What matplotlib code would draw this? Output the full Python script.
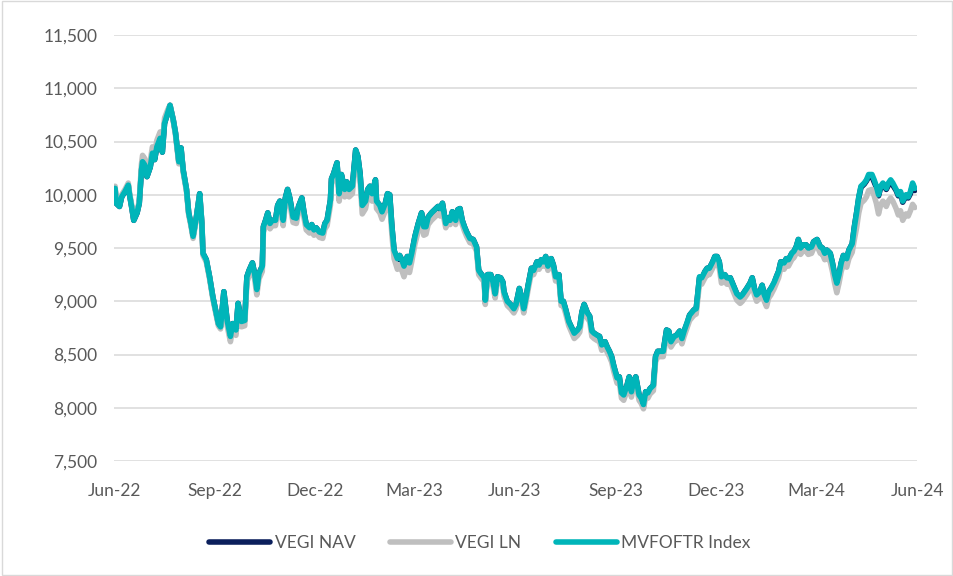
import numpy as np
import pandas as pd
import matplotlib
matplotlib.use("Agg")
import matplotlib.pyplot as plt
from matplotlib.patches import Rectangle
from matplotlib.ticker import FuncFormatter


# ==========================
# DATA
# ==========================

start_date = "2022-06-30"

# days after start_date
day = [
    1, 2, 5, 7, 10, 13, 14, 16, 18, 21, 23, 25, 26, 28, 30, 33, 35, 37, 39, 42,
    44, 46, 49, 51, 54, 56, 59, 61, 63, 66, 68, 70, 72, 75, 78, 80, 81, 84, 87, 90,
    93, 95, 97, 100, 103, 106, 108, 111, 113, 116, 119, 121, 123, 126, 128, 130, 132, 135, 136, 138,
    140, 142, 144, 147, 149, 151, 154, 156, 158, 160, 163, 166, 168, 171, 173, 175, 178, 180, 182, 184,
    187, 190, 192, 194, 197, 198, 200, 203, 205, 207, 210, 212, 214, 217, 220, 222, 224, 226, 229, 231,
    233, 235, 238, 239, 242, 244, 247, 249, 251, 253, 255, 258, 260, 262, 264, 267, 269, 271, 274, 277,
    280, 282, 284, 286, 289, 292, 295, 297, 299, 302, 304, 306, 308, 311, 313, 315, 317, 319, 321, 324,
    327, 330, 332, 334, 337, 338, 340, 343, 345, 347, 349, 352, 354, 355, 358, 361, 364, 366, 369, 371,
    373, 375, 377, 380, 382, 385, 387, 389, 391, 393, 395, 398, 400, 402, 405, 407, 409, 411, 414, 419,
    422, 424, 426, 428, 431, 433, 435, 437, 440, 442, 444, 447, 449, 451, 453, 455, 458, 460, 462, 464,
    467, 469, 471, 473, 475, 478, 480, 482, 484, 486, 488, 491, 493, 495, 497, 500, 503, 505, 507, 510,
    512, 515, 517, 519, 522, 524, 528, 530, 533, 535, 538, 540, 542, 545, 547, 549, 551, 553, 556, 558,
    561, 563, 565, 567, 570, 572, 574, 576, 579, 581, 583, 585, 588, 590, 592, 594, 596, 598, 601, 603,
    605, 607, 610, 612, 614, 617, 619, 621, 623, 625, 627, 630, 632, 635, 637, 640, 643, 645, 647, 649,
    652, 654, 656, 658, 660, 662, 664, 667, 669, 672, 674, 676, 678, 680, 683, 685, 687, 690, 692, 694,
    696, 698, 700, 703, 705, 707, 709, 712, 714, 716, 718, 721, 723, 725, 727, 729,
]

mvfoftr = [
    10060, 9920, 9890, 9980, 10030, 10090, 10010, 9890, 9760, 9830, 9920, 10230, 10310, 10280, 10170, 10260, 10390, 10330, 10450, 10530,
    10400, 10670, 10770, 10840, 10700, 10580, 10310, 10440, 10230, 10050, 9830, 9730, 9610, 9790, 10010, 9730, 9450, 9390, 9230, 9040,
    8890, 8790, 8760, 9090, 8820, 8670, 8790, 8730, 8980, 8810, 8820, 9230, 9290, 9360, 9260, 9110, 9260, 9330, 9700, 9760,
    9830, 9730, 9760, 9760, 9900, 9940, 9760, 9970, 10050, 9970, 9790, 9780, 9890, 9970, 9830, 9720, 9690, 9720, 9670, 9690,
    9650, 9640, 9730, 9760, 9950, 10150, 10200, 10300, 10010, 10190, 10050, 10120, 10050, 10080, 10420, 10360, 10200, 9900, 9940, 10050,
    10080, 10010, 10140, 9940, 9900, 9840, 9920, 10010, 10000, 9700, 9480, 9400, 9430, 9390, 9330, 9420, 9360, 9450, 9610, 9730,
    9830, 9700, 9700, 9790, 9830, 9860, 9890, 9870, 9920, 9730, 9780, 9760, 9840, 9760, 9860, 9870, 9760, 9700, 9650, 9590,
    9580, 9510, 9290, 9260, 9220, 9010, 9250, 9250, 9180, 9070, 9230, 9220, 9180, 9090, 9000, 8970, 8930, 8970, 9120, 9040,
    8930, 9030, 9150, 9310, 9290, 9370, 9340, 9390, 9370, 9420, 9330, 9400, 9340, 9230, 9250, 9000, 9000, 8930, 8810, 8700,
    8730, 8760, 8900, 8970, 8890, 8860, 8720, 8700, 8680, 8670, 8590, 8620, 8570, 8530, 8480, 8390, 8280, 8290, 8140, 8120,
    8210, 8290, 8150, 8250, 8290, 8120, 8090, 8030, 8150, 8140, 8180, 8210, 8480, 8530, 8530, 8530, 8730, 8720, 8620, 8670,
    8680, 8720, 8650, 8720, 8810, 8870, 8920, 8930, 9230, 9220, 9280, 9310, 9310, 9370, 9420, 9420, 9370, 9230, 9250, 9220,
    9220, 9170, 9120, 9070, 9040, 9060, 9090, 9120, 9170, 9220, 9120, 9060, 9090, 9150, 9060, 9010, 9090, 9120, 9180, 9230,
    9280, 9370, 9360, 9400, 9390, 9450, 9470, 9510, 9580, 9500, 9530, 9530, 9500, 9510, 9560, 9580, 9510, 9500, 9450, 9480,
    9450, 9360, 9250, 9170, 9250, 9360, 9430, 9400, 9480, 9540, 9700, 9830, 9980, 10080, 10110, 10140, 10190, 10190, 10140, 10080,
    10000, 10080, 10110, 10060, 10110, 10140, 10110, 10050, 10000, 10030, 9940, 10000, 9980, 10030, 10110, 10060,
]

vegi_nav = [
    10060, 9920, 9890, 9980, 10030, 10090, 10010, 9890, 9760, 9830, 9920, 10230, 10310, 10280, 10170, 10260, 10390, 10330, 10450, 10530,
    10400, 10670, 10770, 10840, 10700, 10580, 10310, 10440, 10230, 10050, 9830, 9730, 9610, 9790, 10010, 9730, 9450, 9390, 9230, 9040,
    8890, 8790, 8760, 9090, 8820, 8670, 8790, 8730, 8980, 8810, 8820, 9230, 9290, 9360, 9260, 9110, 9260, 9330, 9700, 9760,
    9830, 9730, 9760, 9760, 9900, 9940, 9760, 9970, 10050, 9970, 9790, 9780, 9890, 9970, 9830, 9720, 9690, 9720, 9670, 9690,
    9650, 9640, 9730, 9760, 9950, 10150, 10200, 10300, 10010, 10190, 10050, 10120, 10050, 10080, 10420, 10360, 10200, 9890, 9940, 10050,
    10080, 10010, 10140, 9940, 9900, 9840, 9920, 10010, 10000, 9700, 9470, 9390, 9430, 9390, 9320, 9420, 9360, 9450, 9610, 9730,
    9830, 9700, 9700, 9790, 9830, 9860, 9890, 9860, 9920, 9730, 9780, 9760, 9840, 9760, 9860, 9870, 9760, 9700, 9650, 9590,
    9580, 9510, 9290, 9260, 9220, 9000, 9250, 9250, 9180, 9070, 9230, 9220, 9180, 9090, 9000, 8970, 8930, 8970, 9120, 9040,
    8930, 9030, 9150, 9310, 9290, 9370, 9340, 9390, 9360, 9420, 9330, 9400, 9340, 9230, 9250, 9000, 9000, 8930, 8810, 8700,
    8730, 8760, 8900, 8970, 8890, 8860, 8720, 8700, 8680, 8670, 8590, 8620, 8570, 8530, 8480, 8390, 8280, 8290, 8140, 8120,
    8210, 8290, 8150, 8250, 8290, 8120, 8080, 8010, 8150, 8140, 8180, 8210, 8480, 8530, 8530, 8530, 8730, 8720, 8620, 8670,
    8680, 8720, 8650, 8720, 8800, 8870, 8920, 8930, 9220, 9210, 9280, 9310, 9310, 9370, 9420, 9420, 9370, 9220, 9250, 9220,
    9220, 9170, 9120, 9070, 9040, 9060, 9090, 9120, 9170, 9220, 9120, 9060, 9090, 9150, 9060, 9010, 9090, 9120, 9170, 9230,
    9280, 9370, 9360, 9400, 9390, 9450, 9470, 9510, 9580, 9500, 9530, 9530, 9500, 9510, 9560, 9580, 9510, 9500, 9450, 9480,
    9450, 9360, 9250, 9170, 9250, 9360, 9430, 9400, 9480, 9540, 9700, 9830, 9970, 10070, 10100, 10130, 10170, 10170, 10120, 10070,
    9990, 10070, 10100, 10050, 10090, 10120, 10090, 10040, 9990, 10020, 9930, 9990, 9970, 10010, 10090, 10040,
]

vegi_ln = [
    10080, 9940, 9910, 10000, 10050, 10110, 10030, 9910, 9780, 9850, 9940, 10290, 10370, 10340, 10230, 10320, 10450, 10390, 10510, 10590,
    10460, 10720, 10800, 10840, 10690, 10560, 10290, 10420, 10210, 10030, 9810, 9710, 9590, 9770, 9990, 9710, 9430, 9370, 9210, 9020,
    8870, 8770, 8740, 9040, 8770, 8620, 8740, 8680, 8930, 8760, 8770, 9180, 9240, 9310, 9210, 9060, 9210, 9280, 9650, 9710,
    9780, 9680, 9710, 9710, 9850, 9890, 9710, 9920, 10000, 9920, 9740, 9730, 9840, 9920, 9780, 9670, 9640, 9670, 9620, 9640,
    9600, 9590, 9680, 9710, 9900, 10100, 10150, 10230, 9940, 10120, 9980, 10050, 9980, 10010, 10350, 10290, 10130, 9820, 9870, 9980,
    10010, 9940, 10070, 9870, 9830, 9770, 9850, 9940, 9930, 9620, 9400, 9300, 9340, 9290, 9230, 9340, 9270, 9370, 9540, 9660,
    9760, 9620, 9630, 9720, 9760, 9790, 9820, 9800, 9850, 9690, 9740, 9720, 9800, 9720, 9820, 9830, 9720, 9660, 9610, 9550,
    9540, 9470, 9250, 9220, 9180, 8970, 9210, 9210, 9140, 9030, 9190, 9180, 9140, 9050, 8960, 8930, 8890, 8930, 9080, 9000,
    8890, 8990, 9110, 9270, 9250, 9330, 9300, 9350, 9330, 9380, 9290, 9360, 9300, 9190, 9210, 8960, 8960, 8890, 8770, 8650,
    8680, 8710, 8850, 8920, 8840, 8810, 8670, 8650, 8630, 8620, 8540, 8570, 8520, 8480, 8430, 8340, 8230, 8240, 8090, 8070,
    8160, 8240, 8100, 8200, 8240, 8070, 8040, 7990, 8100, 8090, 8130, 8160, 8430, 8480, 8480, 8480, 8680, 8670, 8570, 8620,
    8630, 8670, 8600, 8670, 8760, 8820, 8870, 8880, 9170, 9160, 9220, 9250, 9250, 9310, 9360, 9360, 9310, 9170, 9190, 9160,
    9160, 9110, 9060, 9010, 8980, 9000, 9030, 9060, 9110, 9160, 9060, 9000, 9030, 9090, 9000, 8950, 9030, 9060, 9120, 9170,
    9220, 9310, 9300, 9340, 9330, 9390, 9410, 9450, 9520, 9440, 9470, 9470, 9440, 9450, 9500, 9520, 9450, 9440, 9390, 9420,
    9370, 9280, 9170, 9080, 9170, 9280, 9350, 9320, 9400, 9460, 9580, 9690, 9830, 9920, 9950, 9980, 10040, 10050, 9990, 9920,
    9820, 9910, 9940, 9890, 9940, 9970, 9940, 9870, 9810, 9850, 9760, 9820, 9800, 9850, 9910, 9880,
]

series_names = ["VEGI NAV", "VEGI LN", "MVFOFTR Index"]
series_colors = ["#0b1f5c", "#bfbfbf", "#00b5b9"]

y_ticks = [7500, 8000, 8500, 9000, 9500, 10000, 10500, 11000, 11500]

# ==========================
# FONTS
# ==========================

plt.rcParams["font.family"] = ["Lato", "DejaVu Sans"]
text_color = "#595959"

# ==========================
# PLOT
# ==========================

base = pd.Timestamp(start_date)
dates = base + pd.to_timedelta(day, unit="D")

fig = plt.figure(figsize=(9.54, 5.76), dpi=100)
ax = fig.add_axes([114 / 954, 1 - 461 / 576, (917 - 114) / 954, (461 - 35) / 576])

for values, name, color in zip([vegi_nav, vegi_ln, mvfoftr], series_names, series_colors):
    ax.plot(dates, values, color=color, lw=4.0, label=name,
            solid_joinstyle="round", solid_capstyle="round")

x_ticks = [base + pd.DateOffset(months=3 * i) for i in range(9)]
ax.set_xticks(x_ticks)
ax.set_xticklabels([d.strftime("%b-%y") for d in x_ticks])
ax.set_xlim(base, x_ticks[-1])

ax.set_ylim(7500, 11500)
ax.set_yticks(y_ticks)
ax.yaxis.set_major_formatter(FuncFormatter(lambda v, p: f"{v:,.0f}"))

ax.grid(axis="y", color="#d9d9d9", lw=1.1)
ax.set_axisbelow(True)
for s in ax.spines.values():
    s.set_visible(False)

ax.tick_params(axis="both", length=0, labelsize=12.5, colors=text_color)
ax.tick_params(axis="y", pad=12)
ax.tick_params(axis="x", pad=16)

fig.legend(
    loc="center",
    bbox_to_anchor=(480 / 954, 1 - 543 / 576),
    ncol=3,
    frameon=False,
    fontsize=12.5,
    labelcolor=text_color,
    handlelength=3.5,
    handletextpad=0.25,
    columnspacing=2.0,
)

# thin border round the whole picture
fig.patches.append(Rectangle((0.002, 0.002), 0.996, 0.996, transform=fig.transFigure,
                             fill=False, edgecolor="#d9d9d9", lw=1))

fig.savefig("out.png", dpi=100)
